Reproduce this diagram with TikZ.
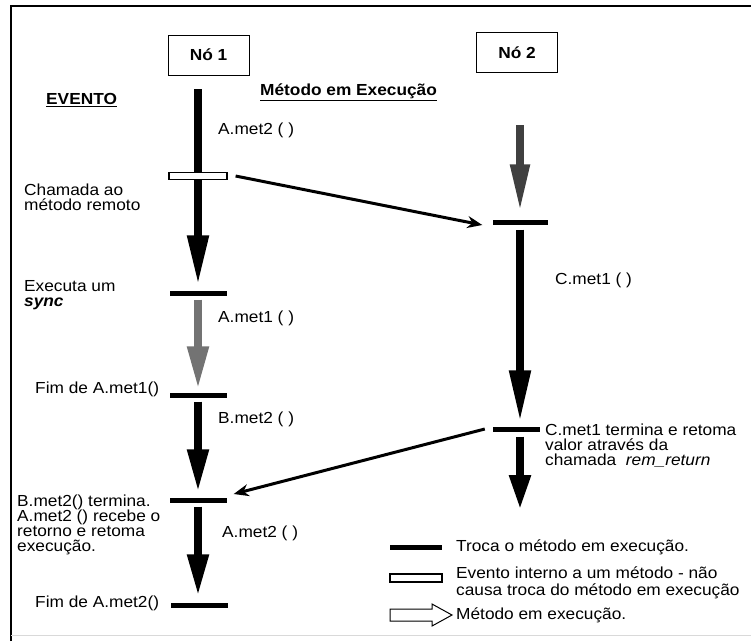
\documentclass[tikz,border=0pt]{standalone}
\usepackage{fontspec}
\setmainfont[FakeStretch=1.08]{Liberation Sans}
\usetikzlibrary{arrows.meta}
\begin{document}
\begin{tikzpicture}[x=1pt,y=-1pt,
  every node/.style={font=\fontsize{16}{15}\selectfont},
  lbl/.style={anchor=west, align=left, inner sep=0pt},
  tbar/.style={fill=black, draw=none, minimum width=57pt, minimum height=5pt, inner sep=0pt},
  hbar/.style={draw=black, line width=1.2pt, fill=white, minimum width=58pt, minimum height=7pt, inner sep=0pt},
  flow/.style={line width=8pt, -{Triangle[width=20pt,length=46pt]}},
  link/.style={line width=3pt, -{Stealth[length=15pt,width=12pt]}},
  nbox/.style={draw, line width=1pt, minimum width=81pt, minimum height=40pt, font=\fontsize{16}{15}\selectfont\bfseries}
]
\useasboundingbox (0,0) rectangle (751,641);
% frame
\draw[line width=1.5pt] (11,641) -- (11,6) -- (751,6);
\draw[line width=1pt, black!15] (11,635) -- (751,635);

% headers
\node[nbox] (n1) at (208.5,55) {Nó 1};
\node[nbox] (n2) at (517,52.5) {Nó 2};
\node[lbl, font=\fontsize{16}{15}\selectfont\bfseries] (ev) at (46,100) {\underline{EVENTO}};
\node[lbl, font=\fontsize{16}{15}\selectfont\bfseries] (me) at (260,92) {\underline{Método em Execução}};

% bars
\node[tbar] (b1) at (198,293) {};
\node[tbar] (b2) at (198,395) {};
\node[tbar] (b3) at (198,500) {};
\node[tbar] (b4) at (199,605) {};
\node[tbar, minimum width=55pt] (r1) at (520,222) {};
\node[tbar, minimum width=47pt] (r2) at (516.5,429) {};

\coordinate (s1) at (198,89);
\coordinate (s2) at (520,125);
\coordinate (e2) at (520,510);

% flows left
\draw[flow, -{Triangle[width=20pt,length=50pt]}, shorten >=5pt] (s1) -- (b1.north);
\draw[flow, black!55, -{Triangle[width=20pt,length=43pt]}, shorten <=4pt, shorten >=3pt] (b1.south) -- (b2.north);
\draw[flow, -{Triangle[width=20pt,length=43pt]}, shorten <=4pt, shorten >=5pt] (b2.south) -- (b3.north);
\draw[flow, -{Triangle[width=20pt,length=42pt]}, shorten <=4pt, shorten >=6pt] (b3.south) -- (b4.north -| b3.south);
% flows right
\draw[flow, black!75, -{Triangle[width=18pt,length=48pt]}, shorten >=7pt] (s2) -- (r1.north);
\draw[flow, -{Triangle[width=20pt,length=52pt]}, shorten <=5pt, shorten >=4pt] (r1.south) -- (r1.south |- r2.north);
\draw[flow, -{Triangle[width=20pt,length=35pt]}, shorten <=5pt] (r1.south |- r2.south) -- (e2);

% internal event bar
\node[hbar] (ev1) at (198,176) {};

% links
\draw[link] ([xshift=8pt]ev1.east) -- ([xshift=-10pt,yshift=-3pt]r1.west);
\draw[link] ([xshift=-8pt]r2.west) -- ([xshift=7pt,yshift=6pt]b3.east);

% labels
\node[lbl] (l1) at (218,130) {A.met2 ( )};
\node[lbl] (l2) at (24,197) {Chamada ao\\método remoto};
\node[lbl] (l3) at (24,295) {Executa um\\\textbf{\textit{sync}}};
\node[lbl] (l4) at (218,318) {A.met1 ( )};
\node[lbl] (l5) at (35,389) {Fim de A.met1()};
\node[lbl] (l6) at (218,419) {B.met2 ( )};
\node[lbl] (l7) at (17,525) {B.met2() termina.\\A.met2 () recebe o\\retorno e retoma\\execução.};
\node[lbl] (l8) at (222,533) {A.met2 ( )};
\node[lbl] (l9) at (35,603) {Fim de A.met2()};
\node[lbl] (l10) at (555,280) {C.met1 ( )};
\node[lbl] (l11) at (545,446) {C.met1 termina e retoma\\valor através da\\chamada\ \ \textit{rem\_return}};

% legend
\node[tbar, minimum width=52pt] (lg1) at (416,547) {};
\node[lbl] (lt1) at (456,547) {Troca o método em execução.};
\node[hbar, minimum width=52pt, minimum height=8pt] (lg2) at (416,578) {};
\node[lbl] (lt2) at (456,583) {Evento interno a um método - não\\[2pt]causa troca do método em execução};
\draw[line width=1pt, fill=white] (390,609) -- (432,609) -- (432,604) -- (452,615) -- (432,626) -- (432,621) -- (390,621) -- cycle;
\node[lbl] (lt3) at (456,615) {Método em execução.};
\end{tikzpicture}
\end{document}
